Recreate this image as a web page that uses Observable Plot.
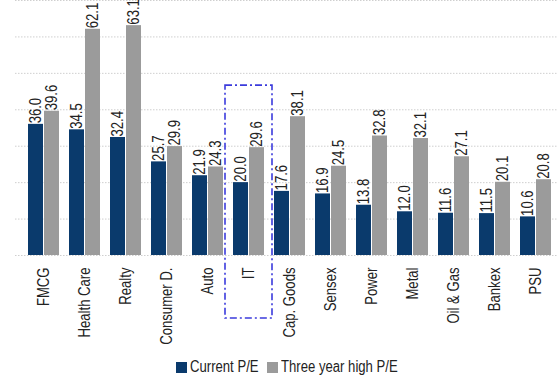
<!DOCTYPE html>
<html>
<head>
<meta charset="utf-8">
<script src="https://cdn.jsdelivr.net/npm/d3@7"></script>
<script src="https://cdn.jsdelivr.net/npm/@observablehq/plot@0.6"></script>
<style>
  html, body { margin: 0; padding: 0; background: #fff; }
  body { width: 558px; height: 379px; overflow: hidden; font-family: "Liberation Sans", Arial, sans-serif; }
  #legend { display: flex; justify-content: center; align-items: center; height: 24px; padding-left: 16px; font-size: 16px; color: #222; }
  #legend .sw { display: inline-block; width: 11px; height: 11px; margin-right: 3px; }
  #legend .item { display: inline-flex; align-items: center; margin: 0 4px; }
  #legend .lbl { display: inline-block; transform: scaleX(0.82); transform-origin: 0 50%; white-space: nowrap; }
</style>
</head>
<body>
<div id="chart"></div>
<div id="legend"></div>
<script>
// Sector valuations: current P/E versus three-year high P/E
const categories = ["FMCG", "Health Care", "Realty", "Consumer D.", "Auto", "IT", "Cap. Goods", "Sensex", "Power", "Metal", "Oil & Gas", "Bankex", "PSU"];
const currentPE = [36.0, 34.5, 32.4, 25.7, 21.9, 20.0, 17.6, 16.9, 13.8, 12.0, 11.6, 11.5, 10.6];
const highPE = [39.6, 62.1, 63.1, 29.9, 24.3, 29.6, 38.1, 24.5, 32.8, 32.1, 27.1, 20.1, 20.8];
const seriesNames = ["Current P/E", "Three year high P/E"];
const gridTicks = [0, 10, 20, 30, 40, 50, 60, 70];
const highlighted = "IT";

const navy = "#0a3a6c";
const grey = "#9b9b9b";
const narrow = 0.82; // condensed look for all text

const rows = categories.map((c, i) => ({category: c, current: currentPE[i], high: highPE[i]}));
const fmt = d3.format(".1f");

const chart = Plot.plot({
  width: 558,
  height: 355,
  marginTop: 0,
  marginLeft: 15,
  marginRight: 0,
  marginBottom: 100,
  style: {fontFamily: '"Liberation Sans", Arial, sans-serif', color: "#222", background: "#fff", overflow: "visible"},
  x: {domain: categories, range: [17, 562], paddingInner: 0.24, paddingOuter: 0.12, label: null},
  y: {domain: [0, 70], range: [255, 0], axis: null},
  marks: [
    Plot.ruleY(gridTicks, {stroke: "#cfcfcf", strokeDasharray: "1.5,1.5"}),
    Plot.barY(rows, {x: "category", y: "current", fill: navy, insetRight: 16}),
    Plot.barY(rows, {x: "category", y: "high", fill: grey, insetLeft: 16}),
    Plot.text(rows, {x: "category", y: "current", text: d => fmt(d.current), rotate: -90, textAnchor: "start", dx: -8, dy: -1, fontSize: 16, fill: "#222"}),
    Plot.text(rows, {x: "category", y: "high", text: d => fmt(d.high), rotate: -90, textAnchor: "start", dx: 7.5, dy: -1, fontSize: 16, fill: "#222"}),
    Plot.axisX({tickRotate: -90, tickSize: 0, tickPadding: 12, fontSize: 16, label: null}),
    Plot.barY(rows.filter(d => d.category === highlighted), {
      x: "category", y1: 0, y2: "high",
      fill: "none", stroke: "#3b3bdc", strokeWidth: 1.6, strokeDasharray: "7,3,2,3",
      insetLeft: -8, insetRight: -8, insetTop: -62, insetBottom: -63
    })
  ]
});

// condense the rotated texts along their reading direction
d3.select(chart).selectAll("text").each(function() {
  const t = this.getAttribute("transform");
  if (t && t.includes("rotate")) this.setAttribute("transform", t + ` scale(${narrow},1)`);
});
document.getElementById("chart").append(chart);

const legend = document.getElementById("legend");
[navy, grey].forEach((c, i) => {
  const item = document.createElement("span");
  item.className = "item";
  const sw = document.createElement("span");
  sw.className = "sw";
  sw.style.background = c;
  const lbl = document.createElement("span");
  lbl.className = "lbl";
  lbl.textContent = seriesNames[i];
  item.append(sw, lbl);
  legend.append(item);
  lbl.style.marginRight = `${-(1 - narrow) * lbl.offsetWidth}px`;
});
</script>
</body>
</html>
